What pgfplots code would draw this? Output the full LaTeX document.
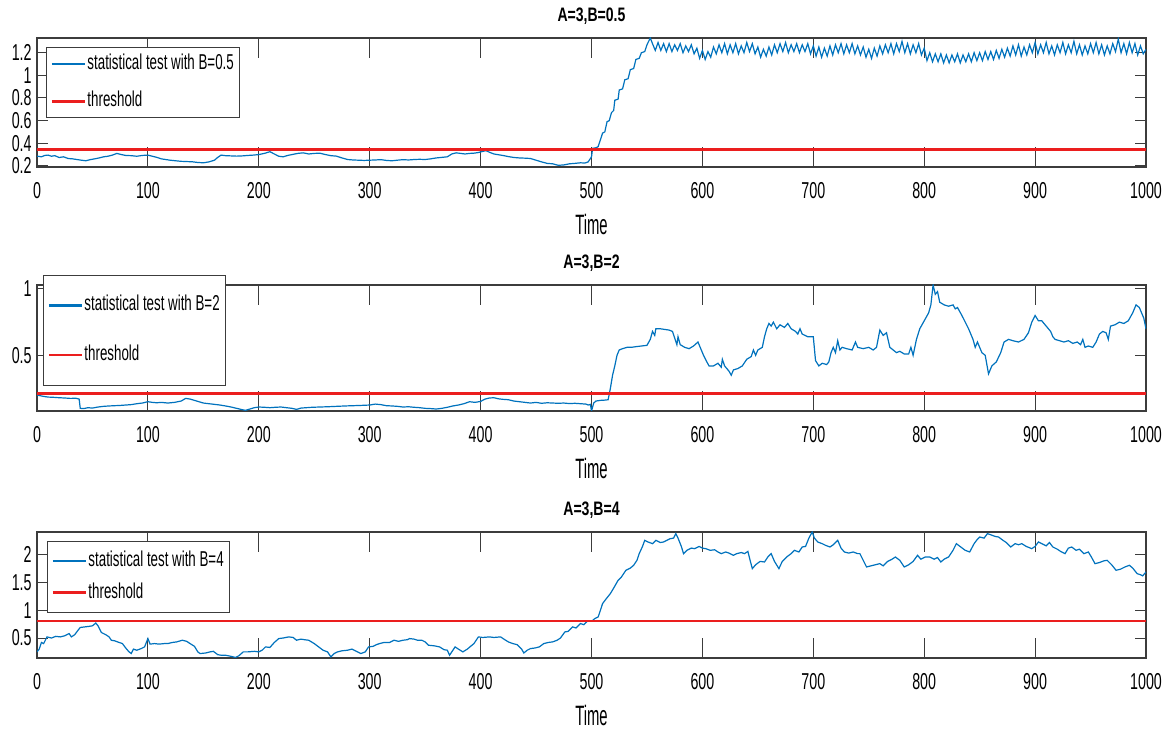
\documentclass[border=0pt]{standalone}
\usepackage{fontspec}
\setmainfont[FakeStretch=0.62]{Liberation Sans}
\newfontfamily\titlefont[FakeStretch=0.72]{Liberation Sans}
\newfontfamily\labelfont[FakeStretch=0.53]{Liberation Sans}
\usepackage{pgfplots}
\pgfplotsset{compat=1.18}
\definecolor{mblue}{RGB}{0,114,189}
\definecolor{mred}{RGB}{235,30,30}
\definecolor{axgray}{RGB}{60,60,60}

\pgfplotsset{
  mstyle/.style={
    scale only axis, width=554.5pt, height=63pt,
    xmin=0, xmax=1000,
    xtick={0,100,200,300,400,500,600,700,800,900,1000},
    xticklabels={0,100,200,300,400,500,600,700,800,900,1000},
    axis line style={axgray, line width=0.6pt},
    every tick/.style={axgray, line width=0.5pt},
    xtick style={/pgfplots/major tick length=10pt},
    ytick style={/pgfplots/major tick length=5.5pt},
    tick align=inside,
    ticklabel style={font=\fontsize{11.5}{13}\selectfont},
    xticklabel style={anchor=base, yshift=-16pt},
    yticklabel style={anchor=east, inner xsep=0pt, xshift=-2.5pt},
    xlabel={Time},
    xlabel style={at={(axis description cs:0.5,0)}, anchor=base, yshift=-34pt, font=\labelfont\fontsize{14}{16}\selectfont},
    title style={at={(axis description cs:0.5,1)}, anchor=base, yshift=2pt, font=\titlefont\bfseries\fontsize{9.75}{11}\selectfont},
    legend cell align=left,
    legend image code/.code={\draw[#1] (0pt,0pt) -- (16.5pt,0pt);},
    legend style={draw=axgray, line width=0.5pt, fill=white, anchor=north west, at={(0,1)},
      font=\fontsize{10.75}{12}\selectfont, inner xsep=2pt,
      nodes={inner xsep=0.7pt, inner ysep=0pt, text height=7.7pt, text depth=2.3pt}},
  },
  sline/.style={draw=mblue, line width=0.6pt, forget plot},
  tline/.style={draw=mred, line width=1.3pt, forget plot},
  blueimg/.style={draw=mblue, line width=1.2pt},
  redimg/.style={draw=mred, line width=1.3pt},
}

\begin{document}
\begin{tikzpicture}
\useasboundingbox (0,0) rectangle (583.5pt,366.5pt);

% ---------------- Axis 1 ----------------
\begin{axis}[mstyle, at={(18.5pt,283pt)}, anchor=south west, height=64.5pt,
  ymin=0.19, ymax=1.33,
  ytick={0.2,0.4,0.6,0.8,1,1.2}, yticklabels={0.2,0.4,0.6,0.8,1,1.2},
  title={A=3,B=0.5},
  legend style={xshift=4.5pt, yshift=-4.5pt, row sep=8.8pt, inner ysep=3.2pt}]
\addplot[sline] table {
0 0.286
4 0.280
7 0.292
10 0.295
13 0.285
16 0.290
20 0.274
24 0.280
28 0.265
32 0.262
36 0.256
40 0.250
44 0.245
48 0.255
52 0.262
56 0.270
60 0.280
64 0.285
68 0.295
72 0.310
76 0.300
80 0.292
85 0.290
90 0.285
95 0.292
100 0.295
104 0.285
108 0.275
112 0.262
116 0.256
120 0.250
125 0.245
130 0.240
135 0.238
140 0.236
145 0.230
150 0.227
155 0.235
160 0.250
163 0.275
166 0.295
170 0.290
175 0.288
180 0.286
185 0.288
190 0.292
195 0.295
200 0.300
205 0.310
210 0.325
214 0.305
218 0.285
222 0.280
226 0.292
230 0.300
235 0.310
240 0.315
245 0.305
250 0.310
255 0.312
260 0.300
265 0.290
270 0.286
275 0.270
280 0.256
285 0.252
290 0.250
295 0.248
300 0.250
305 0.252
310 0.255
315 0.248
320 0.245
325 0.250
330 0.255
335 0.252
340 0.256
345 0.258
350 0.256
355 0.262
360 0.270
365 0.275
370 0.280
374 0.305
378 0.315
382 0.310
386 0.305
390 0.310
394 0.312
398 0.318
402 0.328
405 0.334
408 0.320
412 0.305
415 0.300
420 0.292
425 0.282
430 0.274
435 0.270
440 0.268
445 0.265
450 0.250
455 0.235
460 0.222
465 0.218
470 0.205
475 0.208
480 0.218
485 0.222
490 0.227
494 0.225
497 0.235
500 0.280
501 0.355
504 0.360
506 0.370
508 0.430
510 0.490
512 0.500
514 0.590
516 0.600
518 0.670
520 0.690
521 0.780
524 0.790
525 0.870
528 0.880
530 0.960
533 0.970
535 1.050
538 1.060
540 1.140
543 1.150
545 1.200
548 1.210
550 1.270
553 1.330
555 1.280
557.5 1.22
560 1.29
562.5 1.22
565 1.28
567.5 1.21
570 1.28
572.5 1.21
575 1.27
577.5 1.22
580 1.28
582.5 1.20
585 1.26
587.5 1.21
590 1.27
592.5 1.19
595 1.24
597.5 1.15
600 1.22
602.5 1.14
605 1.21
607.5 1.16
610 1.25
612.5 1.19
615 1.27
617.5 1.20
620 1.28
622.5 1.19
625 1.27
627.5 1.20
630 1.28
632.5 1.19
635 1.26
637.5 1.20
640 1.29
642.5 1.21
645 1.28
647.5 1.19
650 1.25
652.5 1.16
655 1.23
657.5 1.17
660 1.25
662.5 1.18
665 1.27
667.5 1.20
670 1.28
672.5 1.21
675 1.29
677.5 1.20
680 1.27
682.5 1.21
685 1.28
687.5 1.20
690 1.27
692.5 1.21
695 1.28
697.5 1.19
700 1.26
702.5 1.17
705 1.25
707.5 1.16
710 1.24
712.5 1.17
715 1.26
717.5 1.18
720 1.27
722.5 1.20
725 1.28
727.5 1.19
730 1.27
732.5 1.20
735 1.28
737.5 1.19
740 1.26
742.5 1.18
745 1.25
747.5 1.16
750 1.23
752.5 1.15
755 1.24
757.5 1.17
760 1.26
762.5 1.19
765 1.27
767.5 1.20
770 1.28
772.5 1.19
775 1.28
777.5 1.21
780 1.30
782.5 1.20
785 1.28
787.5 1.19
790 1.27
792.5 1.20
795 1.28
797.5 1.18
800 1.24
802.5 1.13
805 1.20
807.5 1.12
810 1.19
812.5 1.12
815 1.19
817.5 1.11
820 1.18
822.5 1.11
825 1.18
827.5 1.12
830 1.19
832.5 1.11
835 1.18
837.5 1.12
840 1.19
842.5 1.12
845 1.20
847.5 1.13
850 1.20
852.5 1.13
855 1.21
857.5 1.14
860 1.21
862.5 1.14
865 1.22
867.5 1.15
870 1.23
872.5 1.16
875 1.24
877.5 1.17
880 1.26
882.5 1.18
885 1.27
887.5 1.17
890 1.25
892.5 1.18
895 1.27
897.5 1.20
900 1.29
902.5 1.19
905 1.27
907.5 1.20
910 1.29
912.5 1.19
915 1.26
917.5 1.18
920 1.27
922.5 1.20
925 1.29
927.5 1.19
930 1.27
932.5 1.20
935 1.30
937.5 1.19
940 1.27
942.5 1.18
945 1.26
947.5 1.19
950 1.28
952.5 1.20
955 1.29
957.5 1.19
960 1.27
962.5 1.18
965 1.26
967.5 1.19
970 1.28
972.5 1.21
975 1.32
977.5 1.20
980 1.28
982.5 1.19
985 1.29
987.5 1.20
990 1.28
992.5 1.18
995 1.26
997.5 1.19
1000 1.23
};
\addplot[tline] coordinates {(0,0.345) (1000,0.345)};
\addlegendimage{blueimg}
\addlegendentry{statistical test with B=0.5\hspace{3pt}}
\addlegendimage{redimg}
\addlegendentry{threshold}
\end{axis}

% ---------------- Axis 2 ----------------
\begin{axis}[mstyle, at={(18.5pt,161pt)}, anchor=south west, height=63pt,
  ymin=0.08, ymax=1.03,
  ytick={0.5,1}, yticklabels={0.5,1},
  title={A=3,B=2},
  legend style={xshift=3pt, yshift=5pt, row sep=14.8pt, inner ysep=10pt}]
\addplot[sline] table {
0 0.200
3 0.195
6 0.190
10 0.185
15 0.183
20 0.180
25 0.178
30 0.175
35 0.176
38 0.170
39 0.100
42 0.098
46 0.105
50 0.102
55 0.110
60 0.115
65 0.118
70 0.120
75 0.122
80 0.125
85 0.128
90 0.135
95 0.140
100 0.150
104 0.145
108 0.142
112 0.145
118 0.140
124 0.145
130 0.155
134 0.175
138 0.170
142 0.160
146 0.150
150 0.140
155 0.135
160 0.130
165 0.125
170 0.118
175 0.110
180 0.100
185 0.090
188 0.085
192 0.095
196 0.105
200 0.110
205 0.108
210 0.105
215 0.108
220 0.110
225 0.105
230 0.100
234 0.092
238 0.102
243 0.105
248 0.108
255 0.110
262 0.112
270 0.115
278 0.118
285 0.120
292 0.122
300 0.125
305 0.132
310 0.128
315 0.120
320 0.118
325 0.115
330 0.110
335 0.112
340 0.108
345 0.105
350 0.100
355 0.098
360 0.095
365 0.100
370 0.108
375 0.118
380 0.125
385 0.135
390 0.150
395 0.145
400 0.152
404 0.170
408 0.178
412 0.180
416 0.172
420 0.168
425 0.165
430 0.155
435 0.150
440 0.145
445 0.140
450 0.145
455 0.138
460 0.142
465 0.140
470 0.138
475 0.140
480 0.136
485 0.138
490 0.135
495 0.132
497 0.125
499 0.130
500 0.080
502 0.140
504 0.155
508 0.160
512 0.162
515 0.165
517 0.250
519 0.350
521 0.420
523 0.500
525 0.540
528 0.550
532 0.560
536 0.560
540 0.565
545 0.570
550 0.575
553 0.620
555 0.680
557 0.650
558 0.700
562 0.700
566 0.695
570 0.690
573 0.680
575 0.630
577 0.580
578 0.640
580 0.580
584 0.560
588 0.550
592 0.570
596 0.600
598 0.560
601 0.500
604 0.450
606 0.420
610 0.420
614 0.440
617 0.410
618 0.470
620 0.420
624 0.380
626 0.350
628 0.390
632 0.400
636 0.420
640 0.470
644 0.490
646 0.540
648 0.500
650 0.540
654 0.560
656 0.640
658 0.700
660 0.740
662 0.720
664 0.750
667 0.700
670 0.730
674 0.710
677 0.740
680 0.700
684 0.680
686 0.660
688 0.700
690 0.660
695 0.640
700 0.640
702 0.460
705 0.420
708 0.440
712 0.430
714 0.450
716 0.520
718 0.560
720 0.520
722 0.610
724 0.540
726 0.560
730 0.550
735 0.540
738 0.600
740 0.560
745 0.550
750 0.560
754 0.540
757 0.560
760 0.690
763 0.650
766 0.670
769 0.560
772 0.540
775 0.520
778 0.530
782 0.510
786 0.510
788 0.560
790 0.500
793 0.620
796 0.700
800 0.760
804 0.820
806 0.880
808 1.030
810 0.960
812 0.980
814 0.900
818 0.880
822 0.870
826 0.880
828 0.850
830 0.860
834 0.800
837 0.750
840 0.700
844 0.620
846 0.560
848 0.600
852 0.520
855 0.500
858 0.360
861 0.420
865 0.450
869 0.520
872 0.600
876 0.620
880 0.610
885 0.600
890 0.620
894 0.670
897 0.750
900 0.800
903 0.760
906 0.760
910 0.720
914 0.680
916 0.640
918 0.620
922 0.610
926 0.600
930 0.610
934 0.590
938 0.600
941 0.580
943 0.620
945 0.560
948 0.570
952 0.560
955 0.600
958 0.660
961 0.680
964 0.670
966 0.620
968 0.720
972 0.730
976 0.750
980 0.740
984 0.760
988 0.820
991 0.880
994 0.860
996 0.820
998 0.780
1000 0.700
};
\addplot[tline] coordinates {(0,0.21) (1000,0.21)};
\addlegendimage{blueimg}
\addlegendentry{statistical test with B=2\hspace{2pt}}
\addlegendimage{redimg}
\addlegendentry{threshold}
\end{axis}

% ---------------- Axis 3 ----------------
\begin{axis}[mstyle, at={(18.5pt,37.5pt)}, anchor=south west, height=63pt,
  ymin=0.14, ymax=2.41,
  ytick={0.5,1,1.5,2}, yticklabels={0.5,1,1.5,2},
  title={A=3,B=4},
  legend style={xshift=5pt, yshift=-4.5pt, row sep=5.8pt, inner ysep=4.8pt}]
\addplot[sline] table {
0 0.250
2 0.300
4 0.420
6 0.400
9 0.520
13 0.500
17 0.530
21 0.520
25 0.540
29 0.580
31 0.520
34 0.560
37 0.640
39 0.690
43 0.700
47 0.710
50 0.720
53 0.770
55 0.720
58 0.600
62 0.560
65 0.520
67 0.460
70 0.450
74 0.420
77 0.400
80 0.320
83 0.250
85 0.220
87 0.300
90 0.280
94 0.310
97 0.340
99 0.440
100 0.490
102 0.390
106 0.400
110 0.390
115 0.400
118 0.400
122 0.420
126 0.430
131 0.460
135 0.440
138 0.400
142 0.350
145 0.250
147 0.220
152 0.230
156 0.250
159 0.260
163 0.200
166 0.190
170 0.190
175 0.170
179 0.150
182 0.180
186 0.250
190 0.250
196 0.260
200 0.250
203 0.280
206 0.340
210 0.330
214 0.420
218 0.490
222 0.500
227 0.520
231 0.510
234 0.460
238 0.480
241 0.470
245 0.460
250 0.400
254 0.340
258 0.280
262 0.250
265 0.160
268 0.220
271 0.250
275 0.270
280 0.280
284 0.300
288 0.260
292 0.220
296 0.250
299 0.340
303 0.350
306 0.380
309 0.400
313 0.420
318 0.420
322 0.460
326 0.440
330 0.460
334 0.470
336 0.490
340 0.480
343 0.460
347 0.460
350 0.430
353 0.370
358 0.360
363 0.340
367 0.290
370 0.280
372 0.190
375 0.280
377 0.340
380 0.300
384 0.250
388 0.300
391 0.350
394 0.400
398 0.520
402 0.510
408 0.520
412 0.510
418 0.520
421 0.480
425 0.430
429 0.400
433 0.380
435 0.340
437 0.300
439 0.230
442 0.280
445 0.310
449 0.320
453 0.340
457 0.400
461 0.420
465 0.430
469 0.460
472 0.500
476 0.610
479 0.620
483 0.700
486 0.680
490 0.760
493 0.740
496 0.800
500 0.800
503 0.850
506 0.880
508 1.000
510 1.120
513 1.200
517 1.300
520 1.400
524 1.540
527 1.600
531 1.720
535 1.760
538 1.810
541 1.900
543 2.020
546 2.150
548 2.260
551 2.230
555 2.200
558 2.260
562 2.220
565 2.230
568 2.260
571 2.290
574 2.300
576 2.380
578 2.300
581 2.150
583 2.020
586 2.080
590 2.120
593 2.110
597 2.150
600 2.120
603 2.110
607 2.080
611 2.090
614 2.050
617 2.020
621 2.050
624 2.030
628 1.990
631 2.020
635 2.040
638 2.020
641 2.060
643 1.900
645 1.750
648 1.820
652 1.880
656 1.870
659 1.960
662 2.020
665 1.880
669 1.750
672 1.880
676 1.960
680 2.020
683 2.080
687 2.050
690 2.140
693 2.150
696 2.300
699 2.410
701 2.300
704 2.230
708 2.200
711 2.170
715 2.140
718 2.180
722 2.260
725 2.120
728 2.050
732 2.030
736 2.050
740 2.020
742 2.020
745 1.900
748 1.780
752 1.800
756 1.820
760 1.840
763 1.800
767 1.880
771 1.920
774 1.960
778 1.900
782 1.780
786 1.820
790 1.880
794 1.990
797 1.920
801 1.960
805 1.960
809 1.920
812 1.950
815 1.870
818 1.920
822 1.960
826 2.080
829 2.200
833 2.140
837 2.080
841 2.050
845 2.200
848 2.280
850 2.320
854 2.300
857 2.380
860 2.360
864 2.330
867 2.320
871 2.260
874 2.220
878 2.140
882 2.200
885 2.180
888 2.200
892 2.150
897 2.110
900 2.150
903 2.230
906 2.200
910 2.160
913 2.220
916 2.140
920 2.100
923 2.060
927 2.020
930 2.120
933 2.140
937 2.080
940 2.100
944 2.020
948 2.050
951 1.950
954 1.840
958 1.860
962 1.890
965 1.900
969 1.820
973 1.720
977 1.740
981 1.780
985 1.810
988 1.760
992 1.660
995 1.640
997 1.620
1000 1.690
};
\addplot[tline] coordinates {(0,0.81) (1000,0.81)};
\addlegendimage{blueimg}
\addlegendentry{statistical test with B=4\hspace{2pt}}
\addlegendimage{redimg}
\addlegendentry{threshold}
\end{axis}
\end{tikzpicture}
\end{document}
